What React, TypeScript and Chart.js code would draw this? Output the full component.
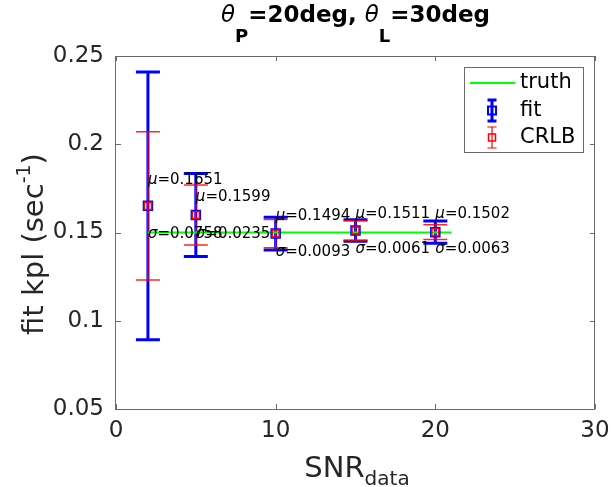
import React, { useEffect, useRef } from "react";
import { Chart, registerables } from "chart.js";
Chart.register(...registerables);

const snr = [2, 5, 10, 15, 20];
const fitMean = [0.1651, 0.1599, 0.1494, 0.1511, 0.1502];
const fitStd = [0.0758, 0.0235, 0.0093, 0.0061, 0.0063];
const crlbStd = [0.042, 0.017, 0.008, 0.0055, 0.0042];
const truthX = [2, 21];
const truthY = [0.15, 0.15];
const muLabelY = [0.1797, 0.1701, 0.1594, 0.1605, 0.1605];
const sigmaLabelY = [0.1491, 0.149, 0.139, 0.1406, 0.1406];
const xTicks = [0, 10, 20, 30];
const yTicks = [0.05, 0.1, 0.15, 0.2, 0.25];
const legendLabels = ["truth", "fit", "CRLB"];

const F = "'DejaVu Sans', sans-serif";
const AX = "#262626";
const BOX = "#6a6a6a";

type Part = { t: string; font: string; dy?: number };
function measureParts(ctx: CanvasRenderingContext2D, parts: Part[]) {
  let w = 0;
  for (const p of parts) {
    ctx.font = p.font;
    w += ctx.measureText(p.t).width;
  }
  return w;
}
function drawParts(ctx: CanvasRenderingContext2D, parts: Part[], x: number, y: number) {
  let cx = x;
  for (const p of parts) {
    ctx.font = p.font;
    ctx.fillText(p.t, cx, y + (p.dy || 0));
    cx += ctx.measureText(p.t).width;
  }
}

const customPlugin = {
  id: "custom",
  beforeDatasetsDraw(chart: any) {
    const { ctx } = chart;
    const x = chart.scales.x;
    const y = chart.scales.y;
    const drawBars = (std: number[], color: string, lw: number, capHalf: number) => {
      ctx.save();
      ctx.strokeStyle = color;
      ctx.lineWidth = lw;
      snr.forEach((s, i) => {
        const px = x.getPixelForValue(s);
        const top = y.getPixelForValue(fitMean[i] + std[i]);
        const bot = y.getPixelForValue(fitMean[i] - std[i]);
        ctx.beginPath();
        ctx.moveTo(px, top);
        ctx.lineTo(px, bot);
        ctx.moveTo(px - capHalf, top);
        ctx.lineTo(px + capHalf, top);
        ctx.moveTo(px - capHalf, bot);
        ctx.lineTo(px + capHalf, bot);
        ctx.stroke();
      });
      ctx.restore();
    };
    drawBars(fitStd, "#0000ff", 3, 12);
    drawBars(crlbStd, "rgba(255,0,0,0.85)", 1.5, 12);
  },
  afterDatasetsDraw(chart: any) {
    const { ctx } = chart;
    const x = chart.scales.x;
    const y = chart.scales.y;
    ctx.save();
    ctx.fillStyle = "#000";
    ctx.textBaseline = "middle";
    ctx.textAlign = "left";
    snr.forEach((s, i) => {
      const px = x.getPixelForValue(s);
      drawParts(
        ctx,
        [
          { t: "μ", font: `italic 15px ${F}` },
          { t: "=" + fitMean[i].toFixed(4), font: `15px ${F}` },
        ],
        px,
        y.getPixelForValue(muLabelY[i])
      );
      drawParts(
        ctx,
        [
          { t: "σ", font: `italic 15px ${F}` },
          { t: "=" + fitStd[i].toFixed(4), font: `15px ${F}` },
        ],
        px,
        y.getPixelForValue(sigmaLabelY[i])
      );
    });
    ctx.restore();
  },
  afterDraw(chart: any) {
    const { ctx, chartArea } = chart;
    const x = chart.scales.x;
    const y = chart.scales.y;
    const { left, right, top, bottom } = chartArea;
    ctx.save();
    // axes box
    ctx.strokeStyle = BOX;
    ctx.lineWidth = 1;
    ctx.strokeRect(Math.round(left) - 0.5, Math.round(top) + 0.5, Math.round(right - left), Math.round(bottom - top));
    ctx.beginPath();
    xTicks.forEach((v) => {
      const px = Math.round(x.getPixelForValue(v)) + 0.5;
      ctx.moveTo(px, bottom);
      ctx.lineTo(px, bottom - 5);
      ctx.moveTo(px, top);
      ctx.lineTo(px, top + 5);
    });
    yTicks.forEach((v) => {
      const py = Math.round(y.getPixelForValue(v)) + 0.5;
      ctx.moveTo(left, py);
      ctx.lineTo(left + 5, py);
      ctx.moveTo(right, py);
      ctx.lineTo(right - 5, py);
    });
    ctx.stroke();

    // title
    ctx.fillStyle = "#000";
    ctx.textBaseline = "alphabetic";
    ctx.textAlign = "left";
    const titleParts: Part[] = [
      { t: "θ", font: `italic 23px ${F}` },
      { t: "P", font: `bold 18px ${F}`, dy: 20 },
      { t: "=20deg, ", font: `bold 23px ${F}` },
      { t: "θ", font: `italic 23px ${F}` },
      { t: "L", font: `bold 18px ${F}`, dy: 20 },
      { t: "=30deg", font: `bold 23px ${F}` },
    ];
    const tw = measureParts(ctx, titleParts);
    drawParts(ctx, titleParts, (left + right) / 2 - tw / 2, 22);

    // x label
    ctx.fillStyle = AX;
    const xParts: Part[] = [
      { t: "SNR", font: `29px ${F}` },
      { t: "data", font: `20px ${F}`, dy: 8 },
    ];
    const xw = measureParts(ctx, xParts);
    drawParts(ctx, xParts, 357 - xw / 2, 477);

    // y label
    const yParts: Part[] = [
      { t: "fit kpl (sec", font: `29px ${F}` },
      { t: "-1", font: `19px ${F}`, dy: -13 },
      { t: ")", font: `29px ${F}` },
    ];
    const yw = measureParts(ctx, yParts);
    ctx.save();
    ctx.translate(43, 244);
    ctx.rotate(-Math.PI / 2);
    drawParts(ctx, yParts, -yw / 2, 0);
    ctx.restore();

    // legend
    ctx.fillStyle = "#fff";
    ctx.fillRect(464.5, 67.5, 119, 85);
    ctx.strokeStyle = BOX;
    ctx.lineWidth = 1;
    ctx.strokeRect(464.5, 67.5, 119, 85);
    const rows = [83, 110.5, 137.5];
    ctx.strokeStyle = "#00ff00";
    ctx.lineWidth = 2;
    ctx.beginPath();
    ctx.moveTo(470, rows[0]);
    ctx.lineTo(515, rows[0]);
    ctx.stroke();
    const icon = (cy: number, color: string, lw: number, half: number, sq: number, sqlw: number) => {
      ctx.strokeStyle = color;
      ctx.lineWidth = lw;
      ctx.beginPath();
      ctx.moveTo(492, cy - 10.5);
      ctx.lineTo(492, cy + 10.5);
      ctx.moveTo(492 - half, cy - 10.5);
      ctx.lineTo(492 + half, cy - 10.5);
      ctx.moveTo(492 - half, cy + 10.5);
      ctx.lineTo(492 + half, cy + 10.5);
      ctx.stroke();
      ctx.lineWidth = sqlw;
      ctx.strokeRect(492 - sq / 2, cy - sq / 2, sq, sq);
    };
    icon(rows[1], "#0000ff", 3, 4.5, 8, 2);
    icon(rows[2], "#ff0000", 1.2, 4.5, 7, 1.5);
    ctx.fillStyle = "#000";
    ctx.font = `21px ${F}`;
    ctx.textBaseline = "middle";
    legendLabels.forEach((l, i) => ctx.fillText(l, 520, rows[i]));
    ctx.restore();
  },
};

export default function App() {
  const ref = useRef<HTMLCanvasElement>(null);
  useEffect(() => {
    const chart = new Chart(ref.current as HTMLCanvasElement, {
      type: "scatter",
      data: {
        datasets: [
          {
            type: "scatter",
            label: "CRLB",
            data: snr.map((s, i) => ({ x: s, y: fitMean[i] })),
            pointStyle: "rect",
            pointRadius: 5,
            borderColor: "#ff0000",
            backgroundColor: "rgba(0,0,0,0)",
            borderWidth: 1.5,
            order: 0,
          },
          {
            type: "scatter",
            label: "fit",
            data: snr.map((s, i) => ({ x: s, y: fitMean[i] })),
            pointStyle: "rect",
            pointRadius: 6,
            borderColor: "#0000ff",
            backgroundColor: "rgba(0,0,0,0)",
            borderWidth: 2,
            order: 1,
          },
          {
            type: "line",
            label: "truth",
            data: truthX.map((v, i) => ({ x: v, y: truthY[i] })),
            borderColor: "#00ff00",
            borderWidth: 2,
            pointRadius: 0,
            showLine: true,
            fill: false,
            order: 2,
          } as any,
        ],
      },
      options: {
        animation: false,
        responsive: false,
        devicePixelRatio: 1,
        layout: { padding: { top: 56, right: 16, left: 0, bottom: 0 } },
        plugins: { legend: { display: false }, tooltip: { enabled: false }, title: { display: false } },
        scales: {
          x: {
            type: "linear",
            min: 0,
            max: 30,
            grid: { display: false, drawTicks: false },
            border: { display: false },
            ticks: { font: { family: F, size: 23 }, color: AX, padding: 8, maxRotation: 0, callback: (v: any) => String(v) },
            afterBuildTicks: (s: any) => {
              s.ticks = xTicks.map((v) => ({ value: v }));
            },
            afterFit: (s: any) => {
              s.height = 78;
              s.paddingLeft = 0;
              s.paddingRight = 0;
            },
          },
          y: {
            type: "linear",
            min: 0.05,
            max: 0.25,
            grid: { display: false, drawTicks: false },
            border: { display: false },
            ticks: { font: { family: F, size: 23 }, color: AX, padding: 12, callback: (v: any) => String(parseFloat(Number(v).toFixed(4))) },
            afterBuildTicks: (s: any) => {
              s.ticks = yTicks.map((v) => ({ value: v }));
            },
            afterFit: (s: any) => {
              s.width = 116;
              s.paddingTop = 0;
              s.paddingBottom = 0;
            },
          },
        },
      },
      plugins: [customPlugin],
    } as any);
    return () => chart.destroy();
  }, []);
  return (
    <div style={{ position: "fixed", left: 0, top: 0, width: 611, height: 487 }}>
      <canvas ref={ref} width={611} height={487} style={{ display: "block", width: 611, height: 487 }} />
    </div>
  );
}
